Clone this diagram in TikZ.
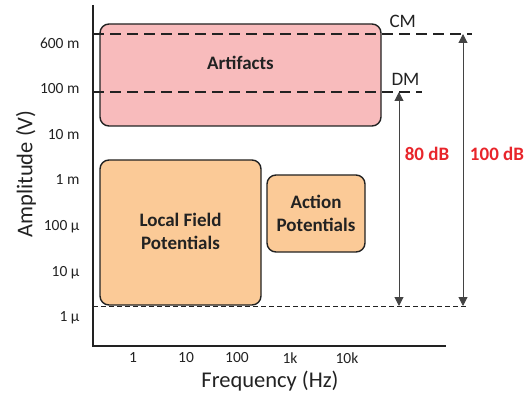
\documentclass[tikz,border=0pt]{standalone}
\usepackage{fontspec}
\setmainfont{Carlito}
\usetikzlibrary{arrows.meta}
\definecolor{artpink}{HTML}{F8BBBC}
\definecolor{potorange}{HTML}{FBCA97}
\definecolor{edgegray}{HTML}{222222}
\definecolor{dbred}{HTML}{E8252B}
\tikzset{
  region/.style={draw=edgegray, line width=1.4pt, rounded corners=9pt},
  regionlabel/.style={font=\fontsize{19}{23}\selectfont\bfseries, text=edgegray, align=center},
  ticklabel/.style={font=\fontsize{15.5}{18}\selectfont, text=edgegray},
  axistitle/.style={font=\fontsize{22.5}{26}\selectfont, text=edgegray},
  axisline/.style={edgegray, line width=2pt},
  levelline/.style={edgegray, line width=1.2pt, dash pattern=on 11pt off 6pt},
  floorline/.style={edgegray, line width=1pt, dash pattern=on 5pt off 3pt},
  spanarrow/.style={edgegray!85, line width=1pt, {Triangle[width=9pt,length=9pt]}-{Triangle[width=9pt,length=9pt]}},
  dblabel/.style={font=\fontsize{19}{23}\selectfont\bfseries, text=dbred},
  modelabel/.style={font=\fontsize{19}{23}\selectfont, text=edgegray, anchor=base west}
}
\begin{document}
\begin{tikzpicture}[x=1pt, y=-1pt]
\useasboundingbox (0,0) rectangle (531,396);

% signal regions
\draw[region, fill=artpink] (100,24) rectangle (381,126);
\node[regionlabel] (art) at (240.5,63) {Artifacts};
\draw[region, fill=potorange] (100,160) rectangle (261,305);
\node[regionlabel] (lfp) at (180.5,231) {Local Field\\Potentials};
\draw[region, fill=potorange] (267,175) rectangle (365,252);
\node[regionlabel] (ap) at (316,213.5) {Action\\Potentials};

% reference levels
\coordinate (cmL) at (93,34);   \coordinate (cmR) at (472,34);
\coordinate (dmL) at (93,92);   \coordinate (dmR) at (422,92);
\coordinate (flL) at (93,306);  \coordinate (flR) at (468,306);
\draw[levelline] (cmL) -- (cmR);
\draw[levelline] (dmL) -- (dmR);
\draw[floorline] (flL) -- (flR);
\node[modelabel] (cm) at (386,28) {CM};
\node[modelabel] (dm) at (388,86) {DM};

% dynamic-range spans
\coordinate (a80t) at (399,92);  \coordinate (a80b) at (399,306);
\coordinate (a100t) at (463,34); \coordinate (a100b) at (463,306);
\draw[spanarrow] (a80t) -- (a80b);
\draw[spanarrow] (a100t) -- (a100b);
\node[dblabel] (db80) at (427,154) {80 dB};
\node[dblabel] (db100) at (497,154) {100 dB};

% axes
\coordinate (ytop) at (93,5);
\coordinate (origin) at (93,346);
\coordinate (xend) at (446,346);
\draw[axisline] (ytop) -- (origin) -- (xend);

% amplitude ticks
\foreach \lab/\yy [count=\i] in {600 m/43, 100 m/89, 10 m/135, 1 m/180, 100 µ/227, 10 µ/273, 1 µ/318}
  \node[ticklabel, anchor=east] (yt\i) at (83,\yy) {\lab};
% frequency ticks
\foreach \lab/\xx [count=\i] in {1/133, 10/186, 100/237, 1k/290, 10k/347}
  \node[ticklabel] (xt\i) at (\xx,358) {\lab};

% axis titles
\node[axistitle] (xtitle) at (270,381) {Frequency (Hz)};
\node[axistitle, rotate=90] (ytitle) at (26,174) {Amplitude (V)};
\end{tikzpicture}
\end{document}
